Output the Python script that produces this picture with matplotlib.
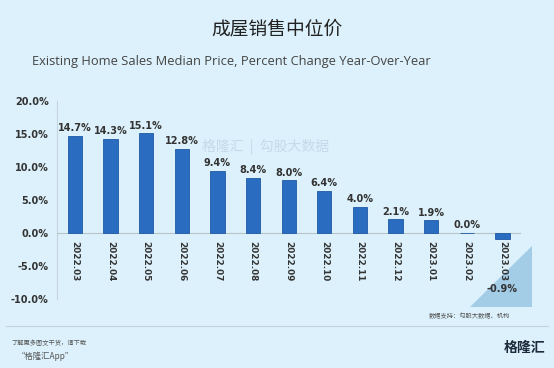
import matplotlib
matplotlib.use("Agg")
import matplotlib.pyplot as plt
from matplotlib.patches import Polygon

plt.rcParams['font.family'] = ['Noto Sans CJK SC', 'DejaVu Sans']

months = ["2022.03", "2022.04", "2022.05", "2022.06", "2022.07", "2022.08", "2022.09",
          "2022.10", "2022.11", "2022.12", "2023.01", "2023.02", "2023.03"]
values = [14.7, 14.3, 15.1, 12.8, 9.4, 8.4, 8.0, 6.4, 4.0, 2.1, 1.9, 0.0, -0.9]
yticks = [-10, -5, 0, 5, 10, 15, 20]

bg = "#dcf1fb"
fig = plt.figure(figsize=(5.54, 3.68), dpi=100, facecolor=bg)
ax = fig.add_axes([0.103, 0.1875, 0.836, 0.538])
ax.patch.set_visible(False)

# decorative triangle (behind the axes)
tri = Polygon([(0.848, 0.166), (0.96, 0.166), (0.96, 0.332)], closed=True,
              transform=fig.transFigure, facecolor="#a3cce6", edgecolor="none", zorder=-1)
fig.patches.append(tri)

for s in ["top", "right"]:
    ax.spines[s].set_visible(False)
ax.spines["bottom"].set_position(("data", 0))
ax.spines["bottom"].set_color("#b8c4cc")
ax.spines["left"].set_color("#c8d4dc")

x = list(range(len(months)))
ax.bar(x, values, width=0.4, color="#2a6cc0", edgecolor="#1f5aa6", linewidth=0.6, zorder=3)

for xi, v in zip(x, values):
    if v >= 0:
        ax.text(xi, v + 0.4, f"{v:.1f}%", ha="center", va="bottom", fontsize=7,
                fontweight="bold", color="#333333", family="DejaVu Sans")
    else:
        ax.text(xi, -8.5, f"{v:.1f}%", ha="center", va="center", fontsize=7,
                fontweight="bold", color="#333333", family="DejaVu Sans")

ax.set_xlim(-0.5, 12.5)
ax.set_ylim(-10, 20)
ax.set_yticks(yticks)
ax.set_yticklabels([f"{t:.1f}%" for t in yticks], fontsize=7, fontweight="bold",
                   color="#333333", family="DejaVu Sans")
ax.set_xticks(x)
ax.set_xticklabels(months, fontsize=6.4, fontweight="bold", rotation=270,
                   color="#333333", family="DejaVu Sans", ha="center", va="top")
ax.tick_params(axis="x", length=0, pad=6)
ax.tick_params(axis="y", length=0, pad=6)

# titles
fig.text(0.5, 0.922, "成屋销售中位价", ha="center", va="center", fontsize=13.5, color="#222222")
fig.text(0.058, 0.832, "Existing Home Sales Median Price, Percent Change Year-Over-Year",
         ha="left", va="center", fontsize=9.3, color="#444444", family="Open Sans")

# watermark
fig.text(0.48, 0.6, "格隆汇  |  勾股大数据", ha="center", va="center", fontsize=10,
         color="#9fb8d0", alpha=0.4)

# footer
fig.text(0.92, 0.14, "数据支持：勾股大数据、机构", ha="right", va="center", fontsize=4.5, color="#555555")
fig.add_artist(plt.Line2D([0.01, 0.99], [0.114, 0.114], transform=fig.transFigure,
                          color="#c4d2da", linewidth=0.8))
fig.text(0.02, 0.068, "了解更多图文干货，请下载", ha="left", va="center", fontsize=4.5,
         color="#555555", style="italic")
fig.text(0.03, 0.032, "“格隆汇App”", ha="left", va="center", fontsize=6, color="#555555",
         style="italic")
fig.text(0.985, 0.055, "格隆汇", ha="right", va="center", fontsize=10, fontweight="bold",
         color="#1e2a3a")

fig.savefig("out.png", dpi=100, facecolor=bg)
